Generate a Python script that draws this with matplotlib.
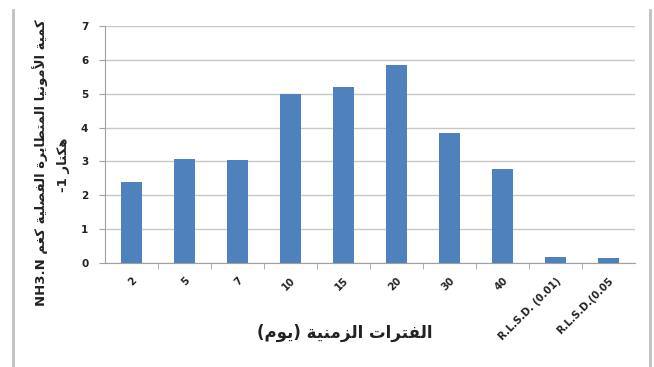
import matplotlib
matplotlib.use("Agg")
import matplotlib.pyplot as plt
from matplotlib.lines import Line2D

# data
categories = ['2', '5', '7', '10', '15', '20', '30', '40', 'R.L.S.D. (0.01)', 'R.L.S.D.(0.05']
values = [2.38, 3.08, 3.04, 4.99, 5.19, 5.85, 3.84, 2.78, 0.17, 0.15]
yticks = [0, 1, 2, 3, 4, 5, 6, 7]

ylabel_line1 = 'كمية الأمونيا المتطايرة الفصلية كغم'
ylabel_unit = 'NH3.N'
ylabel_line2 = 'هكتار'
xlabel_text = 'الفترات الزمنية (يوم)'

# matplotlib has no arabic shaping, so map letters to presentation forms
FORMS = {
    'ا': (0xFE8D, 0xFE8E),
    'أ': (0xFE83, 0xFE84),
    'ة': (0xFE93, 0xFE94),
    'ت': (0xFE95, 0xFE96, 0xFE97, 0xFE98),
    'ر': (0xFEAD, 0xFEAE),
    'ز': (0xFEAF, 0xFEB0),
    'ص': (0xFEB9, 0xFEBA, 0xFEBB, 0xFEBC),
    'ط': (0xFEC1, 0xFEC2, 0xFEC3, 0xFEC4),
    'غ': (0xFECD, 0xFECE, 0xFECF, 0xFED0),
    'ف': (0xFED1, 0xFED2, 0xFED3, 0xFED4),
    'ك': (0xFED9, 0xFEDA, 0xFEDB, 0xFEDC),
    'ل': (0xFEDD, 0xFEDE, 0xFEDF, 0xFEE0),
    'م': (0xFEE1, 0xFEE2, 0xFEE3, 0xFEE4),
    'ن': (0xFEE5, 0xFEE6, 0xFEE7, 0xFEE8),
    'ه': (0xFEE9, 0xFEEA, 0xFEEB, 0xFEEC),
    'و': (0xFEED, 0xFEEE),
    'ي': (0xFEF1, 0xFEF2, 0xFEF3, 0xFEF4),
}
LAM_ALEF = {'ا': (0xFEFB, 0xFEFC), 'أ': (0xFEF7, 0xFEF8)}


def ar(text):
    chars = list(text)
    n = len(chars)
    out = []
    i = 0
    while i < n:
        c = chars[i]
        if c not in FORMS:
            out.append(c)
            i += 1
            continue
        prev = chars[i - 1] if i > 0 else None
        joins_prev = prev in FORMS and len(FORMS[prev]) == 4
        if c == 'ل' and i + 1 < n and chars[i + 1] in LAM_ALEF:
            f = LAM_ALEF[chars[i + 1]]
            out.append(chr(f[1] if joins_prev else f[0]))
            i += 2
            continue
        nxt = chars[i + 1] if i + 1 < n else None
        f = FORMS[c]
        joins_next = len(f) == 4 and nxt in FORMS
        if joins_prev and joins_next:
            out.append(chr(f[3]))
        elif joins_prev:
            out.append(chr(f[1]))
        elif joins_next:
            out.append(chr(f[2]))
        else:
            out.append(chr(f[0]))
        i += 1
    s = ''.join(out)[::-1]
    return s.translate(str.maketrans('()', ')('))


plt.rcParams['font.family'] = ['DejaVu Sans']

fig = plt.figure(figsize=(6.54, 3.67), dpi=100)
W, H = 654, 367
ax = fig.add_axes([105 / W, (H - 263) / H, 530 / W, 237 / H])

x = list(range(len(categories)))
ax.bar(x, values, width=0.4, color='#4F81BD', zorder=3)

ax.set_xlim(-0.5, len(categories) - 0.5)
ax.set_ylim(0, 7)
ax.set_yticks(yticks)
ax.set_yticklabels([str(t) for t in yticks], fontsize=7.5, fontweight='bold', color='#222222')
ax.yaxis.grid(True, color='#c8c8c8', linewidth=1.0, zorder=0)
ax.tick_params(axis='y', length=4, color='#a0a0a0', pad=8)

ax.set_xticks(x)
ax.set_xticklabels(categories, rotation=45, ha='right', va='top', rotation_mode='anchor',
                   fontsize=7.3, fontweight='bold', color='#222222')
ax.set_xticks([i + 0.5 for i in x[:-1]], minor=True)
ax.tick_params(axis='x', which='major', length=0, pad=9)
ax.tick_params(axis='x', which='minor', length=4, color='#a0a0a0')

for side in ['top', 'right']:
    ax.spines[side].set_visible(False)
ax.spines['left'].set_color('#a0a0a0')
ax.spines['bottom'].set_color('#a0a0a0')

# axis titles
fig.text(345 / W, 1 - 333 / H, ar(xlabel_text), fontsize=12, fontweight='bold',
         ha='center', va='center', color='#222222')
fig.text(40 / W, 1 - 163 / H, ylabel_unit + ' ' + ar(ylabel_line1), fontsize=9.5,
         fontweight='bold', rotation=90, ha='center', va='center', color='#222222')
fig.text(63 / W, 1 - 165 / H, '-1 ' + ar(ylabel_line2), fontsize=9.5,
         fontweight='bold', rotation=90, ha='center', va='center', color='#222222')

# chart frame lines at the sides
fig.add_artist(Line2D([13 / W, 13 / W], [0, 1 - 10 / H], transform=fig.transFigure,
                      color='#c0c0c0', linewidth=2))
fig.add_artist(Line2D([650 / W, 650 / W], [0, 1 - 10 / H], transform=fig.transFigure,
                      color='#c0c0c0', linewidth=2))

fig.savefig('out.png', dpi=100)
